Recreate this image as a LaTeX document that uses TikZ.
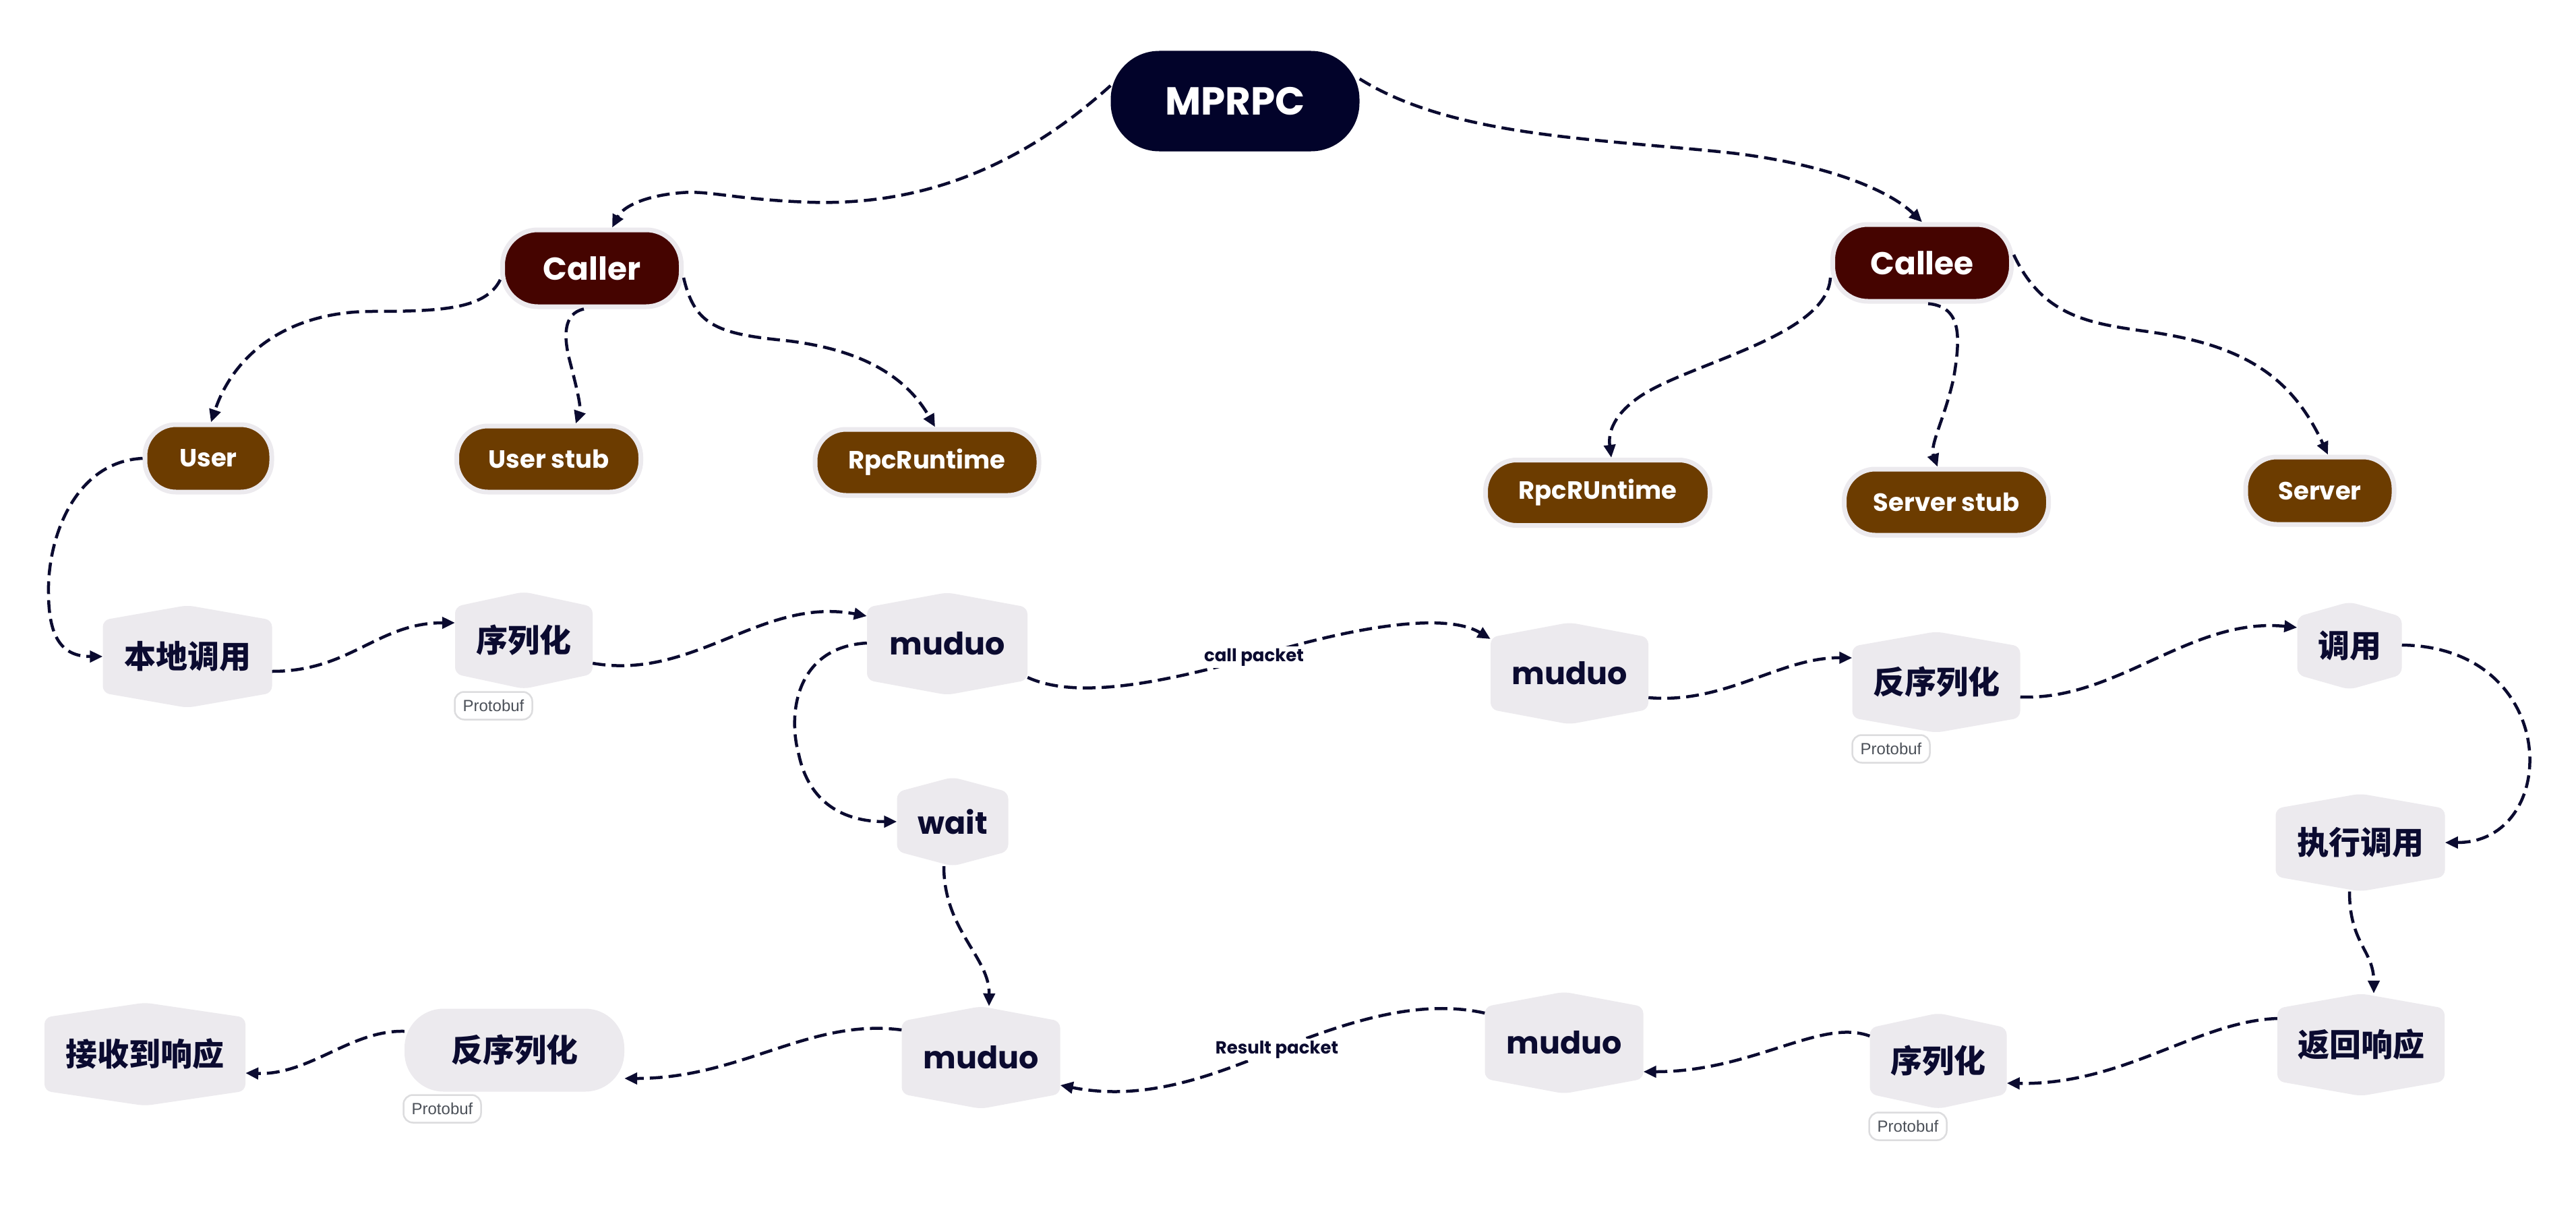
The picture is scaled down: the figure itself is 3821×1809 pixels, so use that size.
\documentclass[tikz,border=0pt]{standalone}
\usepackage{fontspec}
\setmainfont{Poppins}
\newfontfamily\cjk{Noto Sans CJK SC}
\newfontfamily\arialf{Liberation Sans}
\usetikzlibrary{arrows.meta,calc}
\definecolor{cNavy}{HTML}{0B0B30}
\definecolor{cTop}{HTML}{02032A}
\definecolor{cMaroon}{HTML}{450400}
\definecolor{cBrown}{HTML}{6C3C00}
\definecolor{cBord}{HTML}{ECEAEE}
\definecolor{cHex}{HTML}{ECEAEE}
\definecolor{cTagBord}{HTML}{DCDCDE}
\definecolor{cTagText}{HTML}{4B5058}
\tikzset{
  conn/.style={draw=cNavy, line width=4.5pt, dash pattern=on 19pt off 9pt, -{Triangle[length=19pt,width=17pt]}},
  topnode/.style={fill=cTop, rounded corners=72pt, inner sep=0pt, text=white, font=\bfseries\fontsize{58pt}{62pt}\selectfont},
  lvlone/.style={fill=cMaroon, draw=cBord, line width=7pt, rounded corners=52pt, inner sep=0pt, text=white, font=\bfseries\fontsize{47pt}{50pt}\selectfont},
  lvltwo/.style={fill=cBrown, draw=cBord, line width=7pt, rounded corners=46pt, inner sep=0pt, text=white, font=\bfseries\fontsize{37pt}{40pt}\selectfont},
  hexfill/.style={fill=cHex, rounded corners=10pt},
  hextext/.style={inner sep=0pt, text=cNavy, font=\bfseries\fontsize{46pt}{50pt}\selectfont},
  cjktext/.style={inner sep=0pt, text=cNavy, font=\cjk\bfseries\fontsize{47pt}{50pt}\selectfont},
  tag/.style={fill=white, draw=cTagBord, line width=2.5pt, rounded corners=14pt, minimum width=115pt, minimum height=41pt, inner sep=0pt, text=cTagText, font=\arialf\fontsize{24pt}{26pt}\selectfont},
  lbl/.style={fill=white, inner sep=3pt, text=cNavy, font=\bfseries\fontsize{26pt}{28pt}\selectfont},
}
% name, cx, cy (down), w, h, style, text
\newcommand\hexnode[7]{%
  \fill[hexfill] ({#2},{-#3+#5/2}) -- ({#2+#4/2},{-#3+#5/2-22}) -- ({#2+#4/2},{-#3-#5/2+22}) -- ({#2},{-#3-#5/2}) -- ({#2-#4/2},{-#3-#5/2+22}) -- ({#2-#4/2},{-#3+#5/2-22}) -- cycle;
  \node[#6, minimum width=#4pt, minimum height=#5pt] (#1) at (#2,-#3) {#7};
}
\begin{document}
\begin{tikzpicture}[x=1pt,y=1pt]
\useasboundingbox[fill=white] (0,0) rectangle (3821,-1809);

% top and level nodes
\node[topnode, minimum width=369pt, minimum height=149pt] (mprpc) at (1832,-150) {MPRPC};
\node[lvlone, minimum width=265pt, minimum height=114pt] (caller) at (878,-398) {Caller};
\node[lvlone, minimum width=265pt, minimum height=114pt] (callee) at (2851,-390) {Callee};
\node[lvltwo, minimum width=188pt, minimum height=100pt] (user) at (309,-680) {User};
\node[lvltwo, minimum width=273pt, minimum height=98pt] (userstub) at (814,-681) {User stub};
\node[lvltwo, minimum width=332pt, minimum height=98pt] (rpcrt) at (1375,-686) {RpcRuntime};
\node[lvltwo, minimum width=333pt, minimum height=97pt] (rpcRUt) at (2370,-731) {RpcRUntime};
\node[lvltwo, minimum width=303pt, minimum height=98pt] (serverstub) at (2887,-745) {Server stub};
\node[lvltwo, minimum width=220pt, minimum height=100pt] (server) at (3441,-728) {Server};

% process nodes
\hexnode{local}{278}{974}{251}{152}{cjktext}{本地调用}
\hexnode{ser1}{777}{950}{204}{144}{cjktext}{序列化}
\hexnode{mud1}{1405}{955}{238}{152}{hextext}{muduo}
\hexnode{wait}{1413}{1219}{165}{132}{hextext}{wait}
\hexnode{mud2}{2328}{999}{234}{151}{hextext}{muduo}
\hexnode{deser1}{2872}{1012}{249}{150}{cjktext}{反序列化}
\hexnode{invoke}{3485}{958}{155}{130}{cjktext}{调用}
\hexnode{exec}{3501}{1250}{251}{145}{cjktext}{执行调用}
\hexnode{ret}{3502}{1550}{248}{152}{cjktext}{返回响应}
\hexnode{ser2}{2875}{1574}{203}{142}{cjktext}{序列化}
\hexnode{mud3}{2320}{1547}{235}{151}{hextext}{muduo}
\hexnode{mud4}{1455}{1569}{235}{152}{hextext}{muduo}
\hexnode{recv}{215}{1564}{298}{153}{cjktext}{接收到响应}
\node[cjktext, fill=cHex, rounded corners=58pt, minimum width=326pt, minimum height=123pt] (deser2) at (763,-1558) {反序列化};

% tags
\node[tag] (tag1) at (732,-1047) {Protobuf};
\node[tag] (tag2) at (2805,-1111) {Protobuf};
\node[tag] (tag3) at (2830,-1671) {Protobuf};
\node[tag] (tag4) at (656,-1645) {Protobuf};

% tree connectors
\draw[conn] ([yshift=23pt]mprpc.west) .. controls (1500,-260) and (1350,-305) .. (1200,-300) .. controls (1090,-296) and (1050,-282) .. (1010,-286) .. controls (960,-290) and (925,-305) .. ([xshift=30pt]caller.north);
\draw[conn] ([yshift=33pt]mprpc.east) .. controls (2150,-200) and (2350,-205) .. (2550,-225) .. controls (2700,-240) and (2800,-280) .. (callee.north);
\draw[conn] ([yshift=-17pt]caller.west) .. controls (720,-460) and (650,-462) .. (545,-462) .. controls (420,-465) and (345,-530) .. ([xshift=4pt]user.north);
\draw[conn] ([xshift=-12pt]caller.south) .. controls (835,-465) and (836,-500) .. (845,-535) .. controls (858,-585) and (862,-605) .. ([xshift=40pt]userstub.north);
\draw[conn] ([yshift=-14pt]caller.east) .. controls (1030,-480) and (1060,-495) .. (1163,-505) .. controls (1280,-518) and (1345,-560) .. ([xshift=12pt]rpcrt.north);
\draw[conn] ([yshift=-22pt]callee.west) .. controls (2710,-500) and (2500,-540) .. (2430,-590) .. controls (2395,-615) and (2385,-640) .. ([xshift=20pt]rpcRUt.north);
\draw[conn] ([xshift=9pt]callee.south) .. controls (2910,-455) and (2908,-500) .. (2898,-560) .. controls (2885,-620) and (2862,-660) .. ([xshift=-13pt]serverstub.north);
\draw[conn] ([yshift=12pt]callee.east) .. controls (3030,-470) and (3100,-480) .. (3186,-492) .. controls (3330,-512) and (3400,-560) .. ([xshift=12pt]server.north);

% flow connectors
\draw[conn] (user.west) .. controls (110,-685) and (70,-800) .. (72,-880) .. controls (72,-950) and (95,-974) .. (local.west);
\draw[conn] ([yshift=-22pt]local.east) .. controls (520,-996) and (560,-924) .. ([yshift=26pt]ser1.west);
\draw[conn] ([yshift=-34pt]ser1.east) .. controls (1030,-1010) and (1130,-885) .. ([yshift=41pt]mud1.west);
\draw[conn] ([yshift=1pt]mud1.west) .. controls (1180,-960) and (1168,-1060) .. (1185,-1120) .. controls (1200,-1190) and (1250,-1219) .. (wait.west);
\draw[conn] ([xshift=-13pt]wait.south) .. controls (1400,-1380) and (1468,-1420) .. ([xshift=12pt]mud4.north);
\draw[conn] ([yshift=-50pt]mud1.east) .. controls (1590,-1035) and (1700,-1020) .. (1860,-975) node[lbl] {call packet} .. controls (1990,-935) and (2140,-905) .. ([yshift=51pt]mud2.west);
\draw[conn] ([yshift=-36pt]mud2.east) .. controls (2560,-1045) and (2640,-975) .. ([yshift=36pt]deser1.west);
\draw[conn] ([yshift=-22pt]deser1.east) .. controls (3140,-1040) and (3250,-915) .. ([yshift=27pt]invoke.west);
\draw[conn] ([yshift=1pt]invoke.east) .. controls (3800,-960) and (3800,-1250) .. (exec.east);
\draw[conn] ([xshift=-16pt]exec.south) .. controls (3485,-1400) and (3521,-1410) .. ([xshift=19pt]ret.north);
\draw[conn] ([yshift=39pt]ret.west) .. controls (3260,-1515) and (3150,-1610) .. ([yshift=-33pt]ser2.east);
\draw[conn] ([yshift=37pt]ser2.west) .. controls (2700,-1510) and (2600,-1590) .. ([yshift=-43pt]mud3.east);
\draw[conn] ([yshift=44pt]mud3.west) .. controls (2100,-1480) and (1990,-1520) .. (1894,-1557) node[lbl] {Result packet} .. controls (1800,-1595) and (1700,-1635) .. ([yshift=-41pt]mud4.east);
\draw[conn] ([yshift=41pt]mud4.west) .. controls (1200,-1510) and (1100,-1600) .. ([yshift=-42pt]deser2.east);
\draw[conn] ([yshift=28pt]deser2.west) .. controls (520,-1528) and (460,-1595) .. ([yshift=-28pt]recv.east);
\end{tikzpicture}
\end{document}
